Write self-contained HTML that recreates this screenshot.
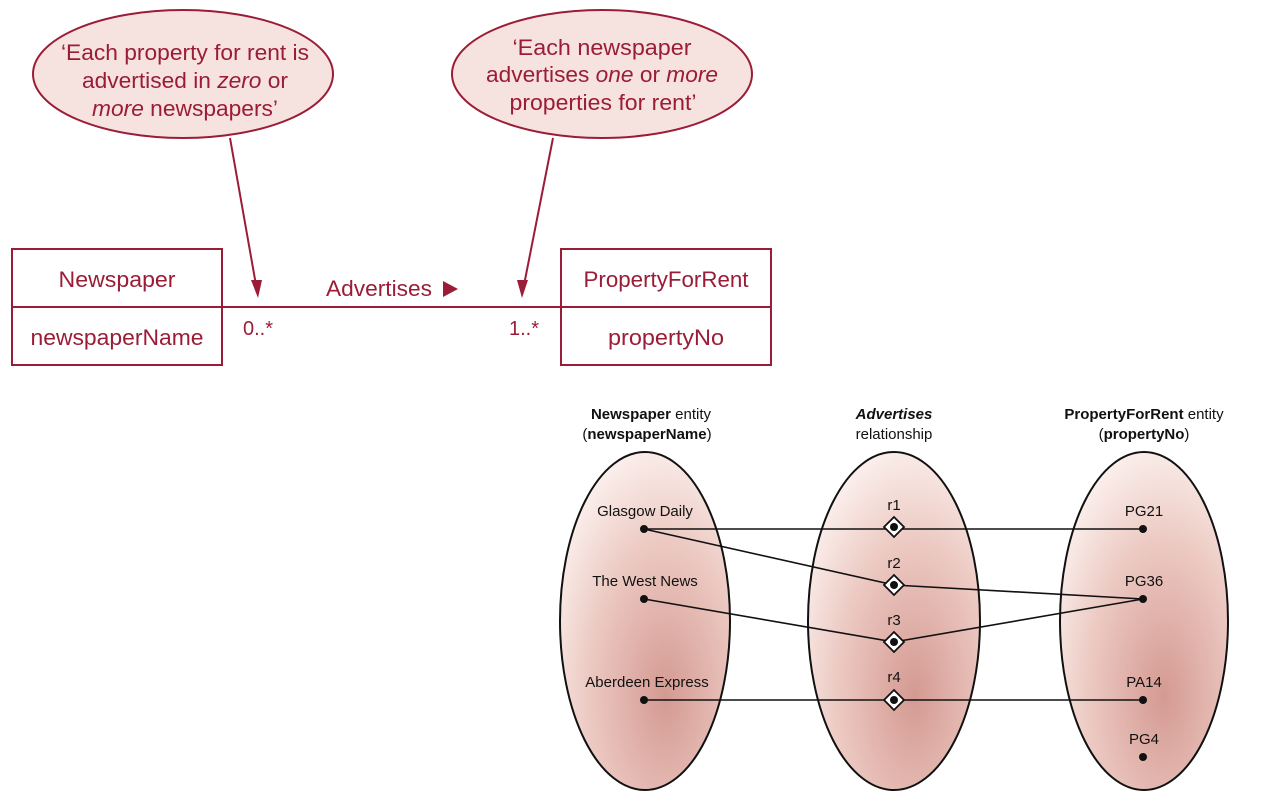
<!DOCTYPE html>
<html><head><meta charset="utf-8"><style>
html,body{margin:0;padding:0;background:#fff;}
svg{display:block;}
.m{fill:#9b1c36;font-family:"Liberation Sans",sans-serif;}
.k{font-family:"Liberation Sans",sans-serif;fill:#111;}
</style></head><body>
<svg width="1264" height="803" viewBox="0 0 1264 803" xmlns="http://www.w3.org/2000/svg">
<defs>
<radialGradient id="g" cx="0.62" cy="0.72" r="0.75">
<stop offset="0" stop-color="#d49a92"/>
<stop offset="0.6" stop-color="#ecc9c2"/>
<stop offset="1" stop-color="#fbefec"/>
</radialGradient>
</defs>
<ellipse cx="183" cy="74" rx="150" ry="64" fill="#f6e3df" stroke="#9b1c36" stroke-width="2"/>
<ellipse cx="602" cy="74" rx="150" ry="64" fill="#f6e3df" stroke="#9b1c36" stroke-width="2"/>
<g class="m" font-size="22" text-anchor="middle">
<text x="185" y="60" textLength="248" lengthAdjust="spacingAndGlyphs">‘Each property for rent is</text>
<text x="185" y="88" textLength="206" lengthAdjust="spacingAndGlyphs">advertised in <tspan font-style="italic">zero</tspan> or</text>
<text x="185" y="116" textLength="186" lengthAdjust="spacingAndGlyphs"><tspan font-style="italic">more</tspan> newspapers’</text>
<text x="602" y="55" textLength="179" lengthAdjust="spacingAndGlyphs">‘Each newspaper</text>
<text x="602" y="82" textLength="232" lengthAdjust="spacingAndGlyphs">advertises <tspan font-style="italic">one</tspan> or <tspan font-style="italic">more</tspan></text>
<text x="603" y="110" textLength="187" lengthAdjust="spacingAndGlyphs">properties for rent’</text>
</g>
<g stroke="#9b1c36" stroke-width="2" fill="#9b1c36">
<line x1="230" y1="138" x2="256" y2="285"/>
<polygon points="251,280 262,280 258,298" stroke="none"/>
<line x1="553" y1="138" x2="524" y2="285"/>
<polygon points="517,280 528,280 522,298" stroke="none"/>
</g>
<g fill="none" stroke="#9b1c36" stroke-width="2">
<rect x="12" y="249" width="210" height="116"/>
<line x1="12" y1="307" x2="222" y2="307"/>
<rect x="561" y="249" width="210" height="116"/>
<line x1="561" y1="307" x2="771" y2="307"/>
<line x1="222" y1="307" x2="561" y2="307"/>
</g>
<g class="m" font-size="22" text-anchor="middle">
<text x="117" y="287" textLength="117" lengthAdjust="spacingAndGlyphs">Newspaper</text>
<text x="117" y="345" textLength="173" lengthAdjust="spacingAndGlyphs">newspaperName</text>
<text x="666" y="287" textLength="165" lengthAdjust="spacingAndGlyphs">PropertyForRent</text>
<text x="666" y="345" textLength="116" lengthAdjust="spacingAndGlyphs">propertyNo</text>
<text x="379" y="296" textLength="106" lengthAdjust="spacingAndGlyphs">Advertises</text>
</g>
<polygon points="443,281 443,297 458,289" fill="#9b1c36"/>
<g class="m" font-size="20">
<text x="243" y="335">0..*</text>
<text x="509" y="335">1..*</text>
</g>
<g fill="url(#g)" stroke="#111" stroke-width="2">
<ellipse cx="645" cy="621" rx="85" ry="169"/>
<ellipse cx="894" cy="621" rx="86" ry="169"/>
<ellipse cx="1144" cy="621" rx="84" ry="169"/>
</g>
<g class="k" font-size="15" text-anchor="middle">
<text x="651" y="419"><tspan font-weight="bold">Newspaper</tspan> entity</text>
<text x="647" y="439">(<tspan font-weight="bold">newspaperName</tspan>)</text>
<text x="894" y="419" font-weight="bold" font-style="italic">Advertises</text>
<text x="894" y="439">relationship</text>
<text x="1144" y="419"><tspan font-weight="bold">PropertyForRent</tspan> entity</text>
<text x="1144" y="439">(<tspan font-weight="bold">propertyNo</tspan>)</text>
<text x="645" y="516">Glasgow Daily</text>
<text x="645" y="586">The West News</text>
<text x="647" y="687">Aberdeen Express</text>
<text x="894" y="510">r1</text>
<text x="894" y="568">r2</text>
<text x="894" y="625">r3</text>
<text x="894" y="682">r4</text>
<text x="1144" y="516">PG21</text>
<text x="1144" y="586">PG36</text>
<text x="1144" y="687">PA14</text>
<text x="1144" y="744">PG4</text>
</g>
<g stroke="#111" stroke-width="1.6" fill="none">
<line x1="644" y1="529" x2="1143" y2="529"/>
<polyline points="644,529 894,585 1143,599 894,642 644,599"/>
<line x1="644" y1="700" x2="1143" y2="700"/>
</g>
<g fill="#fff" stroke="#111" stroke-width="1.8">
<polygon points="894,517 904,527 894,537 884,527"/>
<polygon points="894,575 904,585 894,595 884,585"/>
<polygon points="894,632 904,642 894,652 884,642"/>
<polygon points="894,690 904,700 894,710 884,700"/>
</g>
<g fill="#111">
<circle cx="894" cy="527" r="4"/><circle cx="894" cy="585" r="4"/>
<circle cx="894" cy="642" r="4"/><circle cx="894" cy="700" r="4"/>
<circle cx="644" cy="529" r="4"/><circle cx="644" cy="599" r="4"/><circle cx="644" cy="700" r="4"/>
<circle cx="1143" cy="529" r="4"/><circle cx="1143" cy="599" r="4"/><circle cx="1143" cy="700" r="4"/><circle cx="1143" cy="757" r="4"/>
</g>
</svg>
</body></html>
